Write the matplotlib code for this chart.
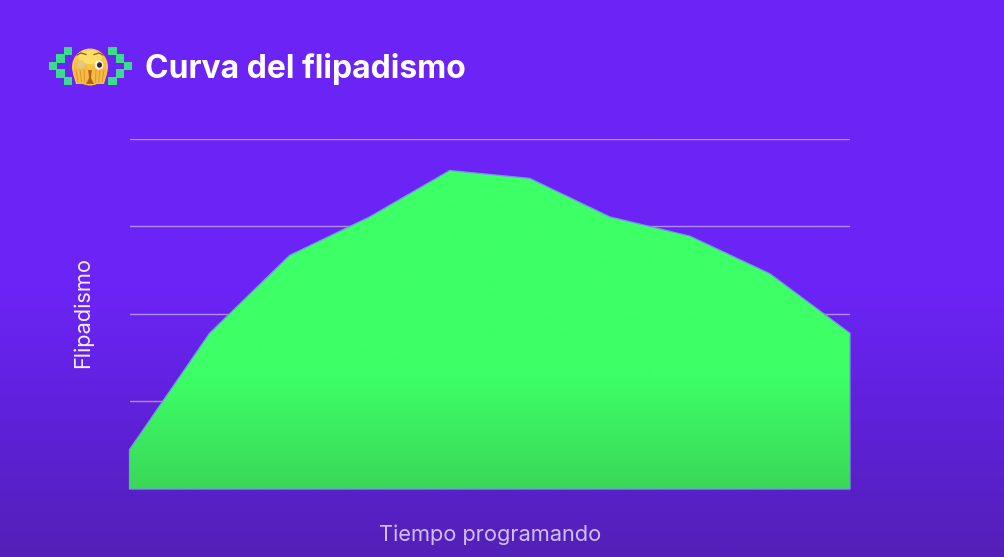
import numpy as np
import matplotlib
matplotlib.use("Agg")
import matplotlib.pyplot as plt
from matplotlib.colors import LinearSegmentedColormap
from matplotlib.patches import Ellipse, Rectangle, Polygon

# Datos de la curva
tiempo = [0, 1, 2, 3, 4, 5, 6, 7, 8, 9]
flipadismo = [0.45, 1.78, 2.67, 3.11, 3.64, 3.55, 3.11, 2.89, 2.46, 1.78]
niveles = [1, 2, 3, 4]

titulo = "Curva del flipadismo"
etiqueta_x = "Tiempo programando"
etiqueta_y = "Flipadismo"

W, H = 1004, 557
GRID = "#B48CF2"
PIXEL = "#3BDD8C"

plt.rcParams["font.family"] = ["Inter", "DejaVu Sans"]
fig = plt.figure(figsize=((W + 0.01) / 100, (H + 0.01) / 100), dpi=100)

# Fondo con degradado vertical
bg = fig.add_axes([0, 0, 1, 1], zorder=0)
bg_cmap = LinearSegmentedColormap.from_list(
    "fondo", [(0, "#6C24F6"), (0.52, "#6C24F6"), (0.75, "#5F21D9"), (1, "#5220B8")])
bg.imshow(np.linspace(0, 1, 256)[:, None], aspect="auto", cmap=bg_cmap, extent=[0, W, H, 0])
bg.axis("off")

# Zona del grafico
ax = fig.add_axes([129.5 / W, 1 - 489 / H, 720.5 / W, 350 / H], zorder=1)
ax.patch.set_visible(False)
ax.set_yticks(niveles)
ax.set_xticks([])
ax.tick_params(left=False, labelleft=False)
ax.grid(axis="y", color=GRID, lw=1.0, zorder=1)
ax.set_axisbelow(True)
for s in ax.spines.values():
    s.set_visible(False)

area = ax.fill_between(tiempo, flipadismo, 0, facecolor="none",
                       edgecolor="#6E9FD8", lw=0.9, zorder=3, clip_on=False)

# Relleno verde, un poco mas oscuro abajo
green_cmap = LinearSegmentedColormap.from_list(
    "verde", [(0, "#3DFF66"), (0.68, "#3DFF66"), (1, "#39D858")])
im = ax.imshow(np.linspace(0, 1, 256)[:, None], aspect="auto", cmap=green_cmap,
               extent=[tiempo[0], tiempo[-1], 0, 4], zorder=2)
im.set_clip_path(area.get_paths()[0], transform=ax.transData)
ax.set_xlim(tiempo[0], tiempo[-1])
ax.set_ylim(0, 4)

fig.text(490 / W, 1 - 535 / H, etiqueta_x, color="#D2BEF7", fontsize=15.7, ha="center", va="center")
fig.text(83 / W, 1 - 312 / H, etiqueta_y, color="#F4EEFE", fontsize=15.7, rotation=90,
         ha="center", va="center")
fig.text(144.5 / W, 1 - 68.5 / H, titulo, color="white", fontsize=23, fontweight="bold",
         ha="left", va="center")

# Icono del titulo en coordenadas de pixel
for cx, cy in [(68, 51), (60.3, 58.7), (52.7, 66), (60.3, 73.7), (68, 81.3),
               (112.3, 51), (120, 58.7), (127.7, 66), (120, 73.7), (112.3, 81.3)]:
    bg.add_patch(Rectangle((cx - 4.2, cy - 4.2), 8.4, 8.4, color=PIXEL, lw=0))

# Cara tapada con las manos
bg.add_patch(Ellipse((90, 67), 36, 37, color="#F8C63F", lw=0))
bg.add_patch(Ellipse((90, 57), 24, 14, color="#FCDD66", lw=0))
bg.add_patch(Polygon([(88, 70), (92, 70), (95, 84), (85, 84)], color="#B2601E", lw=0))
for xs in [(73, 75, 82, 88, 89, 86, 76), (107, 105, 98, 92, 91, 94, 104)]:
    bg.add_patch(Polygon(list(zip(xs, (74, 63, 60, 68, 78, 84, 84))), color="#F6BB45", lw=0))
bg.add_patch(Ellipse((81, 65), 8, 7.5, color="#E8C58A", lw=0))
bg.add_patch(Ellipse((99, 65), 9, 9.5, color="#F4F1EA", lw=0))
bg.add_patch(Ellipse((99.5, 65), 5, 5.4, color="#33261C", lw=0))
bg.plot([77, 81, 86], [55, 53, 54.5], color="#8A5A20", lw=0.9)
bg.plot([94, 99, 103], [54.5, 53, 55], color="#8A5A20", lw=0.9)
for x0, x1 in [(76, 78), (80, 81.5), (84, 84.5), (104, 102), (100, 98.5), (96, 95.5)]:
    bg.plot([x0, x1], [70, 82], color="#D98F2C", lw=0.6)
bg.set_xlim(0, W)
bg.set_ylim(H, 0)

fig.savefig("out.png", dpi=100)
